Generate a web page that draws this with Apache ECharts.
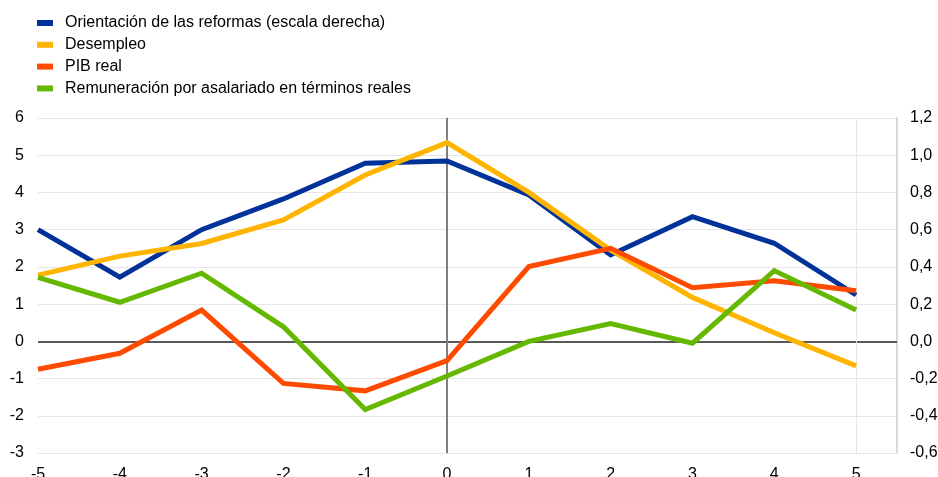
<!DOCTYPE html>
<html>
<head>
<meta charset="utf-8">
<script src="https://cdn.jsdelivr.net/npm/echarts@6/dist/echarts.min.js"></script>
<style>
  html, body { margin: 0; padding: 0; background: #fff; }
  #chart { width: 938px; height: 477px; }
</style>
</head>
<body>
<div id="chart"></div>
<script>
// Years relative to the reform episode
const years = [-5, -4, -3, -2, -1, 0, 1, 2, 3, 4, 5];

// Series names
const names = [
  'Orientación de las reformas (escala derecha)',
  'Desempleo',
  'PIB real',
  'Remuneración por asalariado en términos reales'
];

// Reform stance (right axis)
const reformas = [0.60, 0.345, 0.60, 0.765, 0.957, 0.969, 0.787, 0.464, 0.67, 0.527, 0.249];
// Unemployment
const desempleo = [1.78, 2.29, 2.63, 3.26, 4.47, 5.34, 4.00, 2.45, 1.18, 0.23, -0.66];
// Real GDP
const pib = [-0.75, -0.32, 0.84, -1.13, -1.33, -0.52, 2.01, 2.50, 1.44, 1.63, 1.36];
// Real compensation per employee
const remuneracion = [1.72, 1.05, 1.83, 0.39, -1.83, -0.93, 0.0, 0.48, -0.05, 1.90, 0.84];

const colors = ['#003299', '#FFB400', '#FF4B00', '#65B800'];

const pairs = arr => years.map((x, i) => [x, arr[i]]);
const font = 'Liberation Sans, Arial, sans-serif';

const chart = echarts.init(document.getElementById('chart'));

const lineSeries = (name, data, color, yIndex) => ({
  name: name,
  type: 'line',
  yAxisIndex: yIndex,
  data: pairs(data),
  symbol: 'none',
  lineStyle: { width: 5, color: color, join: 'miter' },
  itemStyle: { color: color },
  z: 3
});

const series = [
  lineSeries(names[0], reformas, colors[0], 1),
  lineSeries(names[1], desempleo, colors[1], 0),
  lineSeries(names[2], pib, colors[2], 0),
  lineSeries(names[3], remuneracion, colors[3], 0)
];

// Reference lines: zero level, the episode year and the last year
series[1].markLine = {
  silent: true,
  symbol: 'none',
  label: { show: false },
  z: 2,
  data: [
    { yAxis: 0, lineStyle: { color: '#595959', width: 2, type: 'solid' } },
    { xAxis: 0, lineStyle: { color: '#7f7f7f', width: 2, type: 'solid' } },
    { xAxis: 5, lineStyle: { color: '#e6e6e6', width: 1, type: 'solid' } }
  ]
};

chart.setOption({
  animation: false,
  color: colors,
  textStyle: { fontFamily: font },
  legend: {
    orient: 'vertical',
    left: 37,
    top: 15,
    padding: 0,
    icon: 'rect',
    itemWidth: 16,
    itemHeight: 6,
    itemGap: 5.8,
    textStyle: {
      fontSize: 16,
      color: '#000',
      fontFamily: font,
      lineHeight: 16,
      padding: [0, 0, 0, 7]
    },
    data: names
  },
  grid: {
    left: 38, right: 41, top: 118, bottom: 24,
    containLabel: false,
    outerBoundsMode: 'none'
  },
  xAxis: {
    type: 'value',
    min: -5,
    max: 5.5,
    interval: 1,
    axisLine: { show: false },
    axisTick: { show: false },
    splitLine: { show: false },
    axisLabel: {
      showMaxLabel: false,
      color: '#000',
      fontSize: 16,
      fontFamily: font,
      margin: 14
    }
  },
  yAxis: [
    {
      type: 'value',
      min: -3,
      max: 6,
      interval: 1,
      axisLine: { show: true, lineStyle: { color: '#d9d9d9', width: 2 } },
      axisTick: { show: false },
      splitLine: { show: true, lineStyle: { color: '#e6e6e6', width: 1 } },
      axisLabel: { color: '#000', fontSize: 16, fontFamily: font, margin: 14 }
    },
    {
      type: 'value',
      min: -0.6,
      max: 1.2,
      interval: 0.2,
      position: 'right',
      axisLine: { show: true, lineStyle: { color: '#d9d9d9', width: 2 } },
      axisTick: { show: false },
      splitLine: { show: false },
      axisLabel: {
        color: '#000',
        fontSize: 16,
        fontFamily: font,
        margin: 13,
        formatter: v => v.toFixed(1).replace('.', ',')
      }
    }
  ],
  series: series
});
</script>
</body>
</html>
